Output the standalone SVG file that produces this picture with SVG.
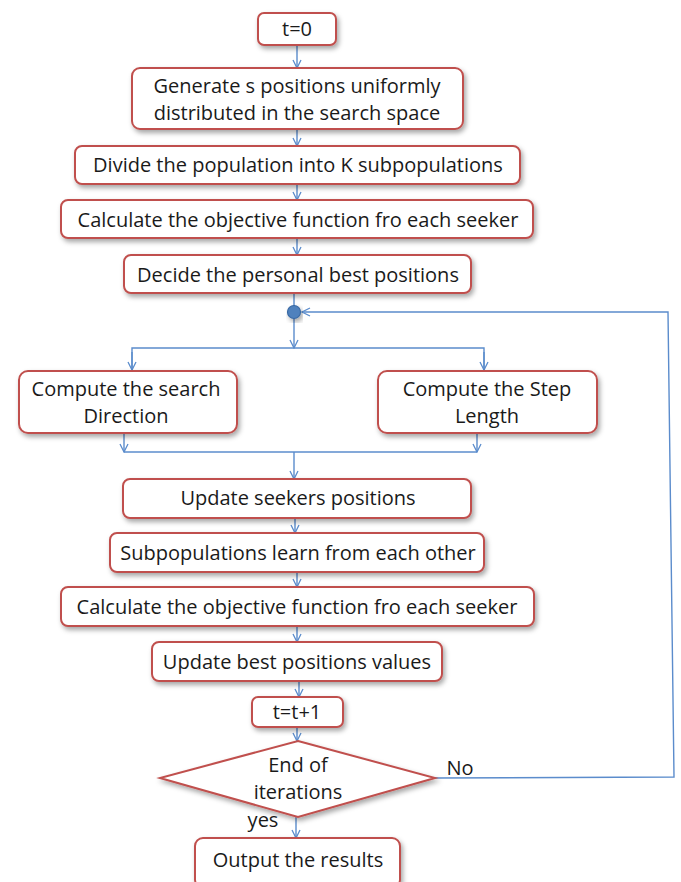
<svg xmlns="http://www.w3.org/2000/svg" width="681" height="882" viewBox="0 0 681 882">
<defs>
<filter id="sh" x="-10%" y="-20%" width="125%" height="150%">
<feDropShadow dx="2" dy="3" stdDeviation="2.5" flood-color="#000" flood-opacity="0.35"/>
</filter>
<marker id="ar" viewBox="0 0 10 10" refX="9" refY="5" markerWidth="10" markerHeight="10" markerUnits="userSpaceOnUse" orient="auto">
<path d="M1,1 L9,5 L1,9" fill="none" stroke="#5b8ccc" stroke-width="1.3"/>
</marker>
</defs>
<style>
.box{fill:#fff;stroke:#c0504d;stroke-width:2;filter:url(#sh)}
.t{font-family:"Open Sans","Liberation Sans",sans-serif;font-size:20px;fill:#1a1a1a;text-anchor:middle}
.c{fill:none;stroke:#5b8ccc;stroke-width:1.4}
.ca{fill:none;stroke:#5b8ccc;stroke-width:1.4;marker-end:url(#ar)}
</style>
<rect width="681" height="882" fill="#fff"/>
<g id="connectors">
<line class="ca" x1="297" y1="45" x2="297" y2="68"/>
<line class="ca" x1="297" y1="129" x2="297" y2="146"/>
<line class="ca" x1="297" y1="184" x2="297" y2="200"/>
<line class="ca" x1="297" y1="238" x2="297" y2="255"/>
<line class="c" x1="294" y1="293" x2="294" y2="312"/>
<line class="ca" x1="294" y1="312" x2="294" y2="348"/>
<polyline class="c" points="132,370 132,348 484,348 484,370"/>
<line class="ca" x1="132" y1="352" x2="132" y2="370"/>
<line class="ca" x1="484" y1="352" x2="484" y2="370"/>
<line class="ca" x1="124" y1="433" x2="124" y2="452"/>
<line class="ca" x1="477" y1="433" x2="477" y2="452"/>
<line class="c" x1="124" y1="452" x2="477" y2="452"/>
<line class="ca" x1="294" y1="452" x2="294" y2="479"/>
<line class="ca" x1="295" y1="518" x2="295" y2="533"/>
<line class="ca" x1="297" y1="572" x2="297" y2="587"/>
<line class="ca" x1="297" y1="626" x2="297" y2="642"/>
<line class="ca" x1="299" y1="681" x2="299" y2="697"/>
<line class="ca" x1="297" y1="727" x2="297" y2="741"/>
<line class="ca" x1="296" y1="817" x2="296" y2="838"/>
<polyline class="ca" points="435,778 674,777 668,312 302,312"/>
</g>
<g id="dot">
<circle cx="294" cy="312" r="6.5" fill="#4f81bd" stroke="#3a6aa5" stroke-width="1.2" filter="url(#sh)"/>
</g>
<g id="n_t0">
<rect class="box" x="258" y="13" width="78" height="32" rx="6"/>
<text class="t" x="297" y="36">t=0</text>
</g>
<g id="n_generate">
<rect class="box" x="132" y="68" width="331" height="61" rx="8"/>
<text class="t" x="297" y="93">Generate s positions uniformly</text>
<text class="t" x="297" y="120">distributed in the search space</text>
</g>
<g id="n_divide">
<rect class="box" x="75" y="146" width="445" height="38" rx="7"/>
<text class="t" x="298" y="172">Divide the population into K subpopulations</text>
</g>
<g id="n_calc1">
<rect class="box" x="61" y="200" width="472" height="38" rx="7"/>
<text class="t" x="298" y="227">Calculate the objective function fro each seeker</text>
</g>
<g id="n_decide">
<rect class="box" x="124" y="255" width="347" height="38" rx="7"/>
<text class="t" x="298" y="282">Decide the personal best positions</text>
</g>
<g id="n_direction">
<rect class="box" x="19" y="371" width="218" height="62" rx="9"/>
<text class="t" x="126" y="396">Compute the search</text>
<text class="t" x="126" y="423">Direction</text>
</g>
<g id="n_step">
<rect class="box" x="378" y="371" width="219" height="62" rx="9"/>
<text class="t" x="487" y="396">Compute the Step</text>
<text class="t" x="487" y="423">Length</text>
</g>
<g id="n_update">
<rect class="box" x="123" y="479" width="348" height="39" rx="7"/>
<text class="t" x="298" y="505">Update seekers positions</text>
</g>
<g id="n_subpop">
<rect class="box" x="110" y="533" width="374" height="39" rx="7"/>
<text class="t" x="298" y="560">Subpopulations learn from each other</text>
</g>
<g id="n_calc2">
<rect class="box" x="61" y="587" width="473" height="39" rx="7"/>
<text class="t" x="297" y="614">Calculate the objective function fro each seeker</text>
</g>
<g id="n_best">
<rect class="box" x="152" y="642" width="290" height="39" rx="7"/>
<text class="t" x="297" y="669">Update best positions values</text>
</g>
<g id="n_tinc">
<rect class="box" x="252" y="697" width="91" height="30" rx="6"/>
<text class="t" x="297" y="719">t=t+1</text>
</g>
<g id="n_end">
<polygon class="box" points="298,741 435,778 298,817 160,778"/>
<text class="t" x="298" y="772">End of</text>
<text class="t" x="298" y="799">iterations</text>
</g>
<g id="labels">
<text class="t" x="263" y="827">yes</text>
<text class="t" x="460" y="775">No</text>
</g>
<g id="n_output">
<rect class="box" x="195" y="838" width="205" height="50" rx="8"/>
<text class="t" x="298" y="867">Output the results</text>
</g>
</svg>
